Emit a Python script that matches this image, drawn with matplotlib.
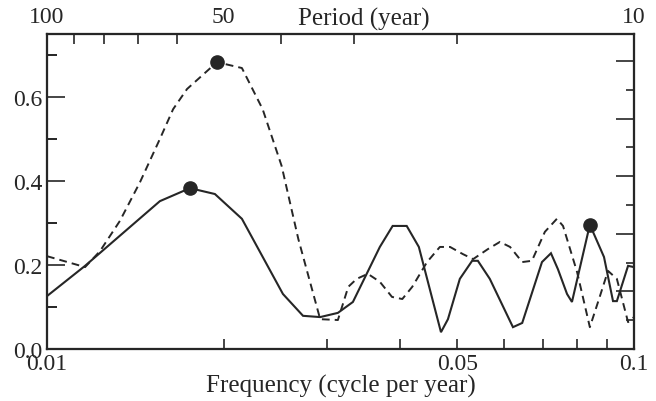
import matplotlib
matplotlib.use('Agg')
import matplotlib.pyplot as plt
from matplotlib.ticker import NullFormatter, FixedLocator

plt.rcParams['font.family'] = ['Liberation Serif', 'DejaVu Serif']

# solid curve (frequency in cycle/year, amplitude)
freq_solid = [0.0100, 0.01161, 0.01557, 0.01752, 0.01932, 0.02148, 0.02523, 0.0273,
              0.0292, 0.0313, 0.0332, 0.0369, 0.0388, 0.0410, 0.0430, 0.0469, 0.0482,
              0.0505, 0.0530, 0.0542, 0.0568, 0.0622, 0.0645, 0.0697, 0.0722, 0.0742,
              0.0769, 0.0784, 0.0841, 0.0889, 0.0921, 0.0935, 0.0977, 0.1000]
amp_solid = [0.126, 0.198, 0.352, 0.383, 0.369, 0.310, 0.131, 0.079,
             0.076, 0.086, 0.112, 0.243, 0.293, 0.293, 0.243, 0.040, 0.071,
             0.167, 0.210, 0.210, 0.167, 0.052, 0.062, 0.207, 0.228, 0.190,
             0.131, 0.112, 0.296, 0.219, 0.114, 0.114, 0.198, 0.195]

# dashed curve
freq_dash = [0.0100, 0.01161, 0.01231, 0.01331, 0.0144, 0.01557, 0.0164, 0.01732,
             0.01948, 0.02148, 0.0233, 0.0251, 0.0268, 0.0292, 0.0313, 0.0326, 0.0337,
             0.0352, 0.0369, 0.0387, 0.0403, 0.0419, 0.0444, 0.0467, 0.0486, 0.0511,
             0.0532, 0.0564, 0.0591, 0.0615, 0.0645, 0.0670, 0.0705, 0.0739, 0.0757,
             0.0800, 0.0841, 0.0875, 0.0903, 0.0935, 0.0977, 0.1000]
amp_dash = [0.221, 0.195, 0.233, 0.305, 0.397, 0.500, 0.571, 0.619,
            0.683, 0.669, 0.571, 0.436, 0.262, 0.071, 0.069, 0.148, 0.167,
            0.179, 0.160, 0.124, 0.119, 0.148, 0.207, 0.243, 0.243, 0.226,
            0.214, 0.238, 0.255, 0.243, 0.207, 0.210, 0.279, 0.310, 0.293,
            0.183, 0.052, 0.126, 0.186, 0.167, 0.064, 0.076]

# highlighted peaks
peak_freq = [0.01948, 0.01752, 0.0841]
peak_amp = [0.683, 0.383, 0.296]

# axis ticks
freq_major = [0.01, 0.05, 0.1]
freq_major_labels = ['0.01', '0.05', '0.1']
freq_minor = [0.02, 0.03, 0.04, 0.06, 0.07, 0.08, 0.09]
period_major = [100, 50, 10]
period_minor = [90, 80, 70, 60, 40, 30, 20]

ink = '#262626'

fig = plt.figure(figsize=(6.56, 4.02), dpi=100)
ax = fig.add_axes([47 / 656, 52 / 402, 587 / 656, 315 / 402])

ax.plot(freq_solid, amp_solid, color=ink, lw=1.5, solid_joinstyle='miter')
ax.plot(freq_dash, amp_dash, color=ink, lw=1.4, dashes=(4, 2.6))
ax.plot(peak_freq, peak_amp, 'o', color=ink, ms=9.5, zorder=5)

ax.set_xscale('log')
ax.set_xlim(0.01, 0.1)
ax.set_ylim(0, 0.75)

ax.xaxis.set_major_locator(FixedLocator(freq_major))
ax.set_xticklabels(freq_major_labels)
ax.xaxis.set_minor_locator(FixedLocator(freq_minor))
ax.xaxis.set_minor_formatter(NullFormatter())
ax.set_yticks([0.0, 0.2, 0.4, 0.6])
ax.set_yticklabels(['0.0', '0.2', '0.4', '0.6'])
ax.set_yticks([0.1, 0.3, 0.5, 0.7], minor=True)

ax.tick_params(axis='x', which='both', direction='in', length=7, width=1.2,
               labelsize=17, colors=ink, pad=3)
ax.tick_params(axis='y', which='major', direction='in', length=13, width=1.2,
               labelsize=17, colors=ink, pad=3)
ax.tick_params(axis='y', which='minor', direction='in', length=7, width=1.2)
ax.set_xlabel('Frequency (cycle per year)', fontsize=18, color=ink, labelpad=0)

# top axis: period
top = ax.twiny()
top.set_xscale('log')
top.set_xlim(0.01, 0.1)
top.xaxis.set_major_locator(FixedLocator([1 / p for p in period_major]))
top.set_xticklabels([str(p) for p in period_major])
top.xaxis.set_minor_locator(FixedLocator([1 / p for p in period_minor]))
top.xaxis.set_minor_formatter(NullFormatter())
top.tick_params(axis='x', which='major', direction='in', length=0, labelsize=17,
                colors=ink, pad=5)
top.tick_params(axis='x', which='minor', direction='in', length=7, width=1.2, color=ink)
ax.text(0.54, (350 - 26) / 315, 'Period (year)', transform=ax.transAxes,
        ha='center', va='baseline', fontsize=18, color=ink)

# right axis: tick marks only
right = ax.twinx()
right.set_ylim(0, 315 / 288)
right.set_yticks([0.2, 0.4, 0.6, 0.8, 1.0])
right.set_yticks([0.1, 0.3, 0.5, 0.7, 0.9], minor=True)
right.tick_params(axis='y', which='major', direction='in', length=13, width=1.2,
                  labelright=False, color=ink)
right.tick_params(axis='y', which='minor', direction='in', length=6, width=1.2, color=ink)

for a in (ax, top, right):
    for s in a.spines.values():
        s.set_linewidth(1.5)
        s.set_color(ink)

fig.savefig('out.png', dpi=100)
